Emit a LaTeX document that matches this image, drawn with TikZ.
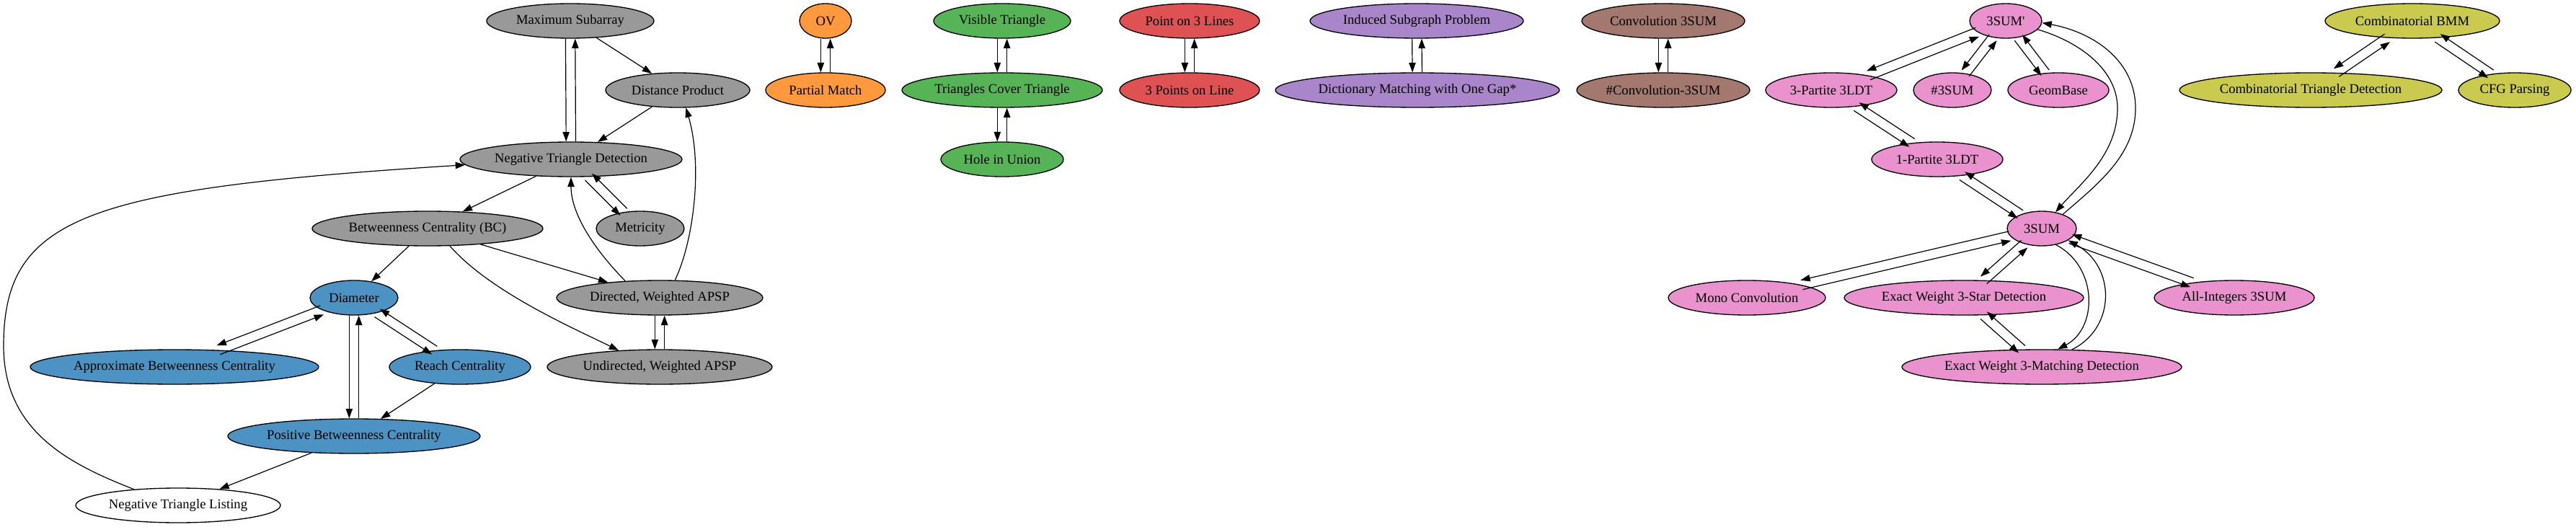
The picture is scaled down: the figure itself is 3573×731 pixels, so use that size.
\documentclass[tikz,border=0pt]{standalone}
\usepackage{fontspec}
\setmainfont{Liberation Serif}[Ligatures=TeXOff]
\usetikzlibrary{shapes.geometric,arrows.meta,calc}
\definecolor{cgray}{HTML}{999999}
\definecolor{cblue}{HTML}{4C92C3}
\definecolor{corange}{HTML}{FF993E}
\definecolor{cgreen}{HTML}{56B356}
\definecolor{cred}{HTML}{DE5253}
\definecolor{cpurple}{HTML}{A985CA}
\definecolor{cbrown}{HTML}{A3786F}
\definecolor{cpink}{HTML}{E992CE}
\definecolor{colive}{HTML}{C9CA4E}
\tikzset{
  nd/.style={ellipse, draw=black, line width=1pt, inner sep=0pt, minimum height=36pt,
    font=\fontsize{14pt}{16pt}\selectfont, text=black},
  edge/.style={draw=black, line width=0.9pt, -{Triangle[length=10pt,width=7pt]}},
}
\newcommand\nd[6]{\node[nd, fill=#5, minimum width=#4pt] (#1) at (#2,#3) {\makebox[0pt]{#6}};}
\newcommand\twoway[2]{%
  \path (#1) -- (#2) coordinate[pos=0] (tws) coordinate[pos=1] (twe);
  \draw[edge] ($(tws)!5pt!-90:(twe)$) -- ($(twe)!5pt!90:(tws)$);
  \draw[edge] ($(twe)!5pt!-90:(tws)$) -- ($(tws)!5pt!90:(twe)$);
}
\begin{document}
\begin{tikzpicture}[x=0.75pt,y=-0.75pt]
\useasboundingbox (0,0) rectangle (3573,731);
% gray / blue group
\nd{ms}{791}{29}{174}{cgray}{Maximum Subarray}
\nd{dp}{940}{125}{150}{cgray}{Distance Product}
\nd{ntd}{792}{221}{231}{cgray}{Negative Triangle Detection}
\nd{bc}{593}{317}{240}{cgray}{Betweenness Centrality (BC)}
\nd{met}{888}{317}{91.5}{cgray}{Metricity}
\nd{dir}{915}{413}{214.5}{cgray}{Directed, Weighted APSP}
\nd{und}{915}{509}{234}{cgray}{Undirected, Weighted APSP}
\nd{dia}{491}{413}{91.5}{cblue}{Diameter}
\nd{abc}{242}{509}{300}{cblue}{Approximate Betweenness Centrality}
\nd{rc}{638}{509}{147}{cblue}{Reach Centrality}
\nd{pbc}{491}{605}{262.5}{cblue}{Positive Betweenness Centrality}
\nd{ntl}{247}{701}{213}{white}{Negative Triangle Listing}
% small groups
\nd{ov}{1145}{29}{54}{corange}{OV}
\nd{pm}{1145}{125}{124.5}{corange}{Partial Match}
\nd{vt}{1390}{29}{142.5}{cgreen}{Visible Triangle}
\nd{tct}{1390}{125}{208.5}{cgreen}{Triangles Cover Triangle}
\nd{hu}{1390}{221}{127.5}{cgreen}{Hole in Union}
\nd{pol}{1650}{29}{145.5}{cred}{Point on 3 Lines}
\nd{tpl}{1650}{125}{145.5}{cred}{3 Points on Line}
\nd{isp}{1965}{29}{222}{cpurple}{Induced Subgraph Problem}
\nd{dmg}{1966}{125}{295.5}{cpurple}{Dictionary Matching with One Gap*}
\nd{cv}{2307}{29}{169.5}{cbrown}{Convolution 3SUM}
\nd{hcv}{2307}{125}{180}{cbrown}{\#Convolution-3SUM}
% pink group
\nd{sump}{2782}{29}{75}{cpink}{3SUM'}
\nd{tpt}{2540}{125}{136.5}{cpink}{3-Partite 3LDT}
\nd{hsum}{2708}{125}{81}{cpink}{\#3SUM}
\nd{gb}{2855}{125}{105}{cpink}{GeomBase}
\nd{opt}{2687}{221}{136.5}{cpink}{1-Partite 3LDT}
\nd{sum}{2832}{317}{72}{cpink}{3SUM}
\nd{mc}{2423}{413}{163.5}{cpink}{Mono Convolution}
\nd{ews}{2724}{413}{249}{cpink}{Exact Weight 3-Star Detection}
\nd{ai}{3099}{413}{166.5}{cpink}{All-Integers 3SUM}
\nd{ewm}{2832}{509}{291}{cpink}{Exact Weight 3-Matching Detection}
% olive group
\nd{bmm}{3346}{29}{181.5}{colive}{Combinatorial BMM}
\nd{ctd}{3205}{125}{273}{colive}{Combinatorial Triangle Detection}
\nd{cfg}{3488}{125}{117}{colive}{CFG Parsing}

% edges gray/blue
\twoway{ms}{ntd}
\draw[edge] (ms) -- (dp);
\draw[edge] (dp) -- (ntd);
\draw[edge] (ntd) -- (bc);
\twoway{ntd}{met}
\draw[edge] (bc) -- (dia);
\draw[edge] (bc) -- (dir);
\draw[edge] (bc.-38) .. controls (680,405) and (795,455) .. (und.158);
\draw[edge] (dir.154) .. controls (830,352) and (792,300) .. (ntd.-90);
\draw[edge] (dir.49) .. controls (962,335) and (975,230) .. (dp.-65);
\twoway{dir}{und}
\twoway{dia}{abc}
\twoway{dia}{pbc}
\twoway{dia}{rc}
\draw[edge] (rc) -- (pbc);
\draw[edge] (pbc) -- (ntl);
\draw[edge] (ntl.160) .. controls (100,645) and (5,600) .. (5,480) .. controls (5,300) and (120,262) .. (ntd.183);
% small groups
\twoway{ov}{pm}
\twoway{vt}{tct}
\twoway{tct}{hu}
\twoway{pol}{tpl}
\twoway{isp}{dmg}
\twoway{cv}{hcv}
% pink
\twoway{sump}{tpt}
\twoway{sump}{hsum}
\twoway{sump}{gb}
\twoway{tpt}{opt}
\twoway{opt}{sum}
\twoway{sum}{mc}
\twoway{sum}{ews}
\twoway{sum}{ai}
\twoway{ews}{ewm}
\draw[edge] (sump.-15) .. controls (2890,60) and (2937,100) .. (2937,150) .. controls (2937,215) and (2885,255) .. (sum.50);
\draw[edge] (sum.34) .. controls (2910,255) and (2962,215) .. (2962,150) .. controls (2962,85) and (2905,45) .. (sump.-3);
\draw[edge] (sum.-49) .. controls (2910,370) and (2910,455) .. (ewm.48);
\draw[edge] (ewm.30) .. controls (2935,455) and (2935,370) .. (sum.-24);
% olive
\twoway{bmm}{ctd}
\twoway{bmm}{cfg}
\end{tikzpicture}
\end{document}
